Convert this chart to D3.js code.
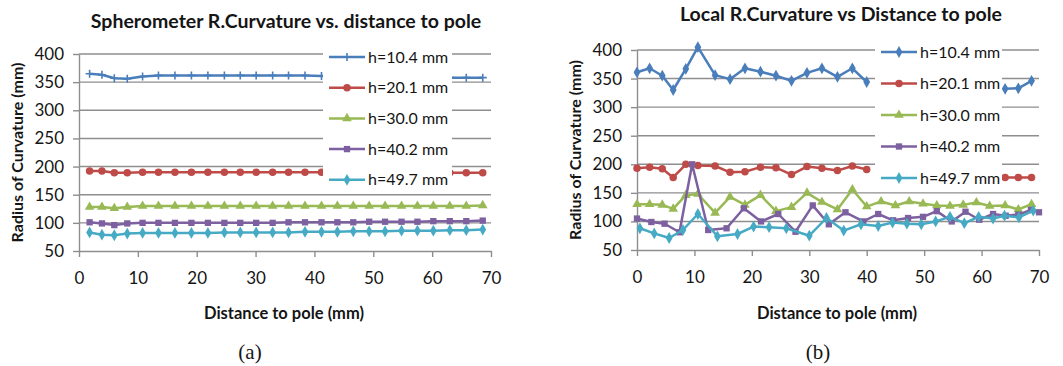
<!DOCTYPE html>
<html>
<head>
<meta charset="utf-8">
<script src="https://cdn.jsdelivr.net/npm/d3@7"></script>
<style>
body { margin: 0; background: #fff; }
text { font-family: Lato, "Open Sans", sans-serif; fill: #151515; }
</style>
</head>
<body>
<svg id="fig" width="1063" height="366"></svg>
<script>
var seriesNames = ['h=10.4 mm', 'h=20.1 mm', 'h=30.0 mm', 'h=40.2 mm', 'h=49.7 mm'];
var colors = ['#4a7ebb', '#be4b48', '#98b954', '#7d60a0', '#46aac5'];
var yTicks = [50, 100, 150, 200, 250, 300, 350, 400];
var xTicks = [0, 10, 20, 30, 40, 50, 60, 70];

// (a) spherometer
var xSph = [1.8, 3.9, 6.0, 8.2, 10.8, 13.5, 16.3, 19.1, 21.9, 24.7, 27.4, 30.1, 32.9, 35.6, 38.4, 41.2, 43.9, 46.6, 49.3, 52.0, 54.8, 57.5, 60.2, 63.0, 65.8, 68.6];
var sph104 = [365, 363, 357, 356, 360, 362, 362, 362, 362, 362, 362, 362, 362, 362, 362, 361, 361, 361, 360, 360, 360, 359, 359, 358, 358, 358];
var sph201 = [192, 192, 189, 189, 190, 190, 190, 190, 190, 190, 190, 190, 190, 190, 190, 190, 190, 190, 190, 190, 190, 189, 189, 189, 189, 189];
var sph300 = [128, 128, 126, 128, 130, 130, 130, 130, 130, 130, 130, 130, 130, 130, 130, 130, 130, 130, 130, 130, 130, 130, 130, 130, 130, 131];
var sph402 = [101, 99, 96, 99, 100, 100, 100, 100, 100, 100, 100, 100, 100, 101, 101, 101, 101, 101, 102, 102, 102, 102, 103, 103, 103, 104];
var sph497 = [83, 79, 78, 81, 82, 82, 82, 82, 82, 83, 83, 83, 83, 83, 84, 84, 84, 85, 85, 85, 86, 86, 86, 87, 87, 88];

// (b) local
var xLoc = [0, 2.2, 4.4, 6.3, 8.5, 10.6, 13.6, 16.2, 18.8, 21.5, 24.2, 26.9, 29.6, 32.2, 34.9, 37.5, 40, 42.5, 45, 47.4, 49.8, 52.2, 54.5, 56.8, 59.1, 61.4, 64.1, 66.4, 68.7];
var loc104 = [361, 368, 355, 330, 367, 405, 356, 349, 368, 362, 355, 346, 360, 368, 353, 368, 344, null, null, null, null, null, null, null, null, null, 332, 333, 346];
var loc201 = [193, 195, 192, 177, 200, 198, 197, 186, 187, 195, 194, 182, 196, 193, 189, 197, 191, null, null, null, null, null, null, null, null, null, 177, 177, 177];
var loc300 = [130, 130, 129, 122, 146, 148, 115, 143, 129, 146, 118, 125, 150, 134, 121, 156, 126, 135, 128, 135, 131, 128, 127, 129, 133, 127, 128, 121, 130];
var xLoc402 = [0, 2.5, 4.8, 7.4, 9.6, 12.4, 15.6, 18.6, 21.6, 24.6, 27.6, 30.6, 33.4, 36.3, 39.4, 42, 44.6, 47.2, 49.8, 52.2, 54.8, 57.2, 59.6, 62, 64.2, 66.4, 68.6, 70];
var loc402 = [105, 99, 96, 81, 200, 85, 88, 123, 100, 113, 82, 128, 95, 116, 100, 113, 102, 106, 108, 118, 100, 117, 103, 113, 110, 112, 120, 116];
var xLoc497 = [0.5, 3, 5.6, 8, 10.6, 14, 17.5, 20.3, 23, 26, 30, 33, 36, 39, 42, 44.5, 47, 49.5, 52, 54.5, 57, 59.5, 62, 64, 66.5, 69];
var loc497 = [88, 79, 71, 85, 113, 74, 78, 91, 90, 88, 75, 106, 84, 95, 92, 98, 96, 95, 100, 108, 97, 108, 105, 110, 107, 119];

var svg = d3.select('#fig');

function marker(g, type, color) {
    if (type == 'plus') {
        g.append('path').attr('d', 'M-4,0H4M0,-4V4').attr('stroke', color).attr('stroke-width', 1.6);
        return;
    }
    var sym = {circle: d3.symbolCircle, triangle: d3.symbolTriangle, square: d3.symbolSquare, diamond: d3.symbolDiamond}[type];
    var size = {circle: 44, triangle: 40, square: 40, diamond: 40}[type];
    g.append('path').attr('d', d3.symbol().type(sym).size(size)).attr('fill', color);
}

function drawChart(c) {
    var x = d3.scaleLinear().domain([0, 70]).range([c.left, c.right]);
    var y = d3.scaleLinear().domain([50, 400]).range([c.bottom, c.top]);
    var g = svg.append('g');

    // gridlines
    g.selectAll('.grid').data(yTicks.slice(1)).enter().append('line')
        .attr('x1', c.left).attr('x2', c.right)
        .attr('y1', d => y(d)).attr('y2', d => y(d))
        .attr('stroke', '#8e8e8e').attr('stroke-width', 1.4);

    var ya = g.append('g').attr('transform', 'translate(' + c.left + ',0)')
        .call(d3.axisLeft(y).tickValues(yTicks).tickSize(6).tickSizeOuter(0).tickPadding(9));
    var xa = g.append('g').attr('transform', 'translate(0,' + c.bottom + ')')
        .call(d3.axisBottom(x).tickValues(xTicks).tickSize(6).tickSizeOuter(0).tickPadding(15));
    [ya, xa].forEach(function(a) {
        a.select('.domain').attr('stroke', '#8e8e8e').attr('stroke-width', 1.4);
        a.selectAll('.tick line').attr('stroke', '#8e8e8e').attr('stroke-width', 1.4);
        a.selectAll('text').style('font-size', '17px').style('font-family', 'Lato, sans-serif').attr('fill', '#151515');
    });

    // series
    c.series.forEach(function(s, i) {
        var pts = s.xs.map((v, j) => [v, s.ys[j]]);
        var line = d3.line().defined(d => d[1] != null).x(d => x(d[0])).y(d => y(d[1]));
        g.append('path').datum(pts).attr('d', line)
            .attr('fill', 'none').attr('stroke', colors[i]).attr('stroke-width', 2.5)
            .attr('stroke-linejoin', 'round');
        pts.filter(d => d[1] != null).forEach(function(d) {
            marker(g.append('g').attr('transform', 'translate(' + x(d[0]) + ',' + y(d[1]) + ')'), s.marker, colors[i]);
        });
    });

    // legend
    var L = c.legend;
    g.append('rect').attr('x', L.x).attr('y', L.y).attr('width', L.w).attr('height', L.h).attr('fill', '#fff');
    seriesNames.forEach(function(name, i) {
        var ry = L.row0 + i * L.step;
        g.append('line').attr('x1', L.x + 6).attr('x2', L.x + 42).attr('y1', ry).attr('y2', ry)
            .attr('stroke', colors[i]).attr('stroke-width', 2.5);
        marker(g.append('g').attr('transform', 'translate(' + (L.x + 24) + ',' + ry + ')'), c.series[i].marker, colors[i]);
        g.append('text').attr('x', L.x + 45).attr('y', ry + 5.5).style('font-size', '16px').text(name);
    });

    // titles
    g.append('text').attr('x', c.titleX).attr('y', c.titleY).attr('text-anchor', 'middle')
        .style('font-size', '19.5px').style('font-weight', 'bold').text(c.title);
    g.append('text').attr('x', (c.left + c.right) / 2 - 1).attr('y', 319).attr('text-anchor', 'middle')
        .style('font-size', '16.5px').style('font-weight', 'bold').text('Distance to pole (mm)');
    g.append('text').attr('transform', 'translate(' + c.yTitleX + ',' + ((c.top + c.bottom) / 2) + ') rotate(-90)')
        .attr('text-anchor', 'middle').style('font-size', '16px').style('font-weight', 'bold')
        .text('Radius of Curvature (mm)');
    g.append('text').attr('x', c.capX).attr('y', 359).attr('text-anchor', 'middle')
        .style('font-family', '"Liberation Serif", serif').style('font-size', '21px').text(c.caption);
}

drawChart({
    left: 79, right: 491, top: 54, bottom: 251,
    title: 'Spherometer R.Curvature vs. distance to pole', titleX: 286, titleY: 28,
    yTitleX: 23, capX: 250, caption: '(a)',
    legend: {x: 323, y: 42, w: 129, h: 150, row0: 57, step: 30.7},
    series: [
        {xs: xSph, ys: sph104, marker: 'plus'},
        {xs: xSph, ys: sph201, marker: 'circle'},
        {xs: xSph, ys: sph300, marker: 'triangle'},
        {xs: xSph, ys: sph402, marker: 'square'},
        {xs: xSph, ys: sph497, marker: 'diamond'}
    ]
});

drawChart({
    left: 637, right: 1039, top: 50, bottom: 250,
    title: 'Local R.Curvature vs Distance to pole', titleX: 841, titleY: 21,
    yTitleX: 581, capX: 818, caption: '(b)',
    legend: {x: 875, y: 38, w: 127, h: 152, row0: 52, step: 31.5},
    series: [
        {xs: xLoc, ys: loc104, marker: 'diamond'},
        {xs: xLoc, ys: loc201, marker: 'circle'},
        {xs: xLoc, ys: loc300, marker: 'triangle'},
        {xs: xLoc402, ys: loc402, marker: 'square'},
        {xs: xLoc497, ys: loc497, marker: 'diamond'}
    ]
});
</script>
</body>
</html>
